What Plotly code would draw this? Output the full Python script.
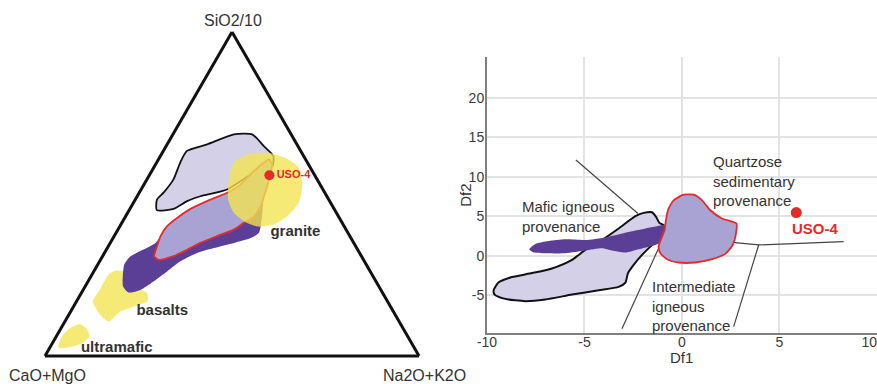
import plotly.graph_objects as go

FONT = "Liberation Sans, Arial, sans-serif"

# ---------------- Ternary diagram data (SiO2/10 = a, CaO+MgO = b, Na2O+K2O = c), in % ----
lav_a = [45.0, 45.4, 47.8, 49.3, 51.4, 56.6, 58.6, 61.7, 64.8, 68.4, 68.4, 65.3, 63.3, 59.7, 54.5, 50.4, 48.3]
lav_b = [47.6, 42.9, 38.1, 33.8, 25.6, 15.8, 9.9, 8.1, 9.1, 10.4, 15.3, 24.0, 30.4, 34.0, 38.4, 43.1, 45.9]
lav_c = [7.4, 11.7, 14.1, 16.9, 23.0, 27.6, 31.5, 30.2, 26.1, 21.2, 16.3, 10.7, 6.3, 6.3, 7.1, 6.5, 5.8]

dark_a = [24.6, 28.2, 30.6, 32.6, 34.9, 38.0, 41.1, 44.2, 47.3, 50.4, 51.4, 44.2, 38.0, 36.4, 34.9, 33.3, 31.8, 29.2, 26.1, 23.0, 20.4, 19.6, 21.5]
dark_b = [66.9, 64.7, 62.0, 57.8, 53.0, 49.3, 45.0, 39.0, 31.2, 22.5, 16.2, 19.8, 23.8, 26.8, 32.0, 38.2, 43.4, 49.2, 54.3, 59.5, 64.3, 67.9, 68.4]
dark_c = [8.5, 7.1, 7.4, 9.6, 12.1, 12.7, 13.9, 16.8, 21.5, 27.1, 32.4, 36.0, 38.2, 36.8, 33.1, 28.5, 24.8, 21.6, 19.6, 17.5, 15.3, 12.5, 10.1]

red_a = [60.7, 59.1, 56.6, 52.4, 49.3, 46.2, 43.1, 41.1, 39.0, 37.0, 34.9, 32.8, 30.8, 29.7, 30.8, 33.9, 37.0, 40.0, 42.6, 45.4, 47.8, 50.4, 52.9, 57.1, 59.7]
red_b = [9.8, 9.7, 11.4, 14.4, 16.8, 19.3, 22.6, 26.3, 30.0, 35.5, 41.0, 45.6, 50.2, 54.8, 55.4, 53.1, 50.6, 47.4, 43.4, 38.4, 32.8, 26.1, 21.3, 15.6, 11.6]
red_c = [29.5, 31.2, 32.0, 33.2, 33.9, 34.5, 34.3, 32.6, 31.0, 27.5, 24.1, 21.6, 19.0, 15.5, 13.8, 13.0, 12.4, 12.6, 14.0, 16.2, 19.4, 23.5, 25.8, 27.3, 28.7]

gran_a = [59.7, 62.2, 62.8, 60.9, 58.1, 52.4, 47.3, 43.1, 40.6, 40.0, 41.6, 44.2, 48.3, 54.5]
gran_b = [19.6, 14.8, 9.2, 4.8, 3.0, 5.0, 8.5, 13.7, 18.5, 23.3, 26.0, 27.4, 26.9, 23.6]
gran_c = [20.7, 23.0, 28.0, 34.3, 38.9, 42.6, 44.2, 43.2, 40.9, 36.7, 32.4, 28.4, 24.8, 21.9]

bas_a = [16.8, 20.6, 25.1, 26.3, 26.1, 20.6, 19.4, 16.8, 15.3, 13.7, 10.6, 12.7]
bas_b = [78.8, 74.9, 70.5, 68.1, 65.8, 64.2, 63.0, 64.2, 68.7, 73.0, 77.7, 78.9]
bas_c = [4.4, 4.4, 4.4, 5.6, 8.1, 15.2, 17.6, 19.0, 16.0, 13.3, 11.7, 8.4]

ult_a = [2.7, 6.0, 8.6, 9.9, 8.6, 6.2, 4.1, 2.9, 2.4]
ult_b = [95.1, 92.5, 89.0, 85.8, 84.7, 85.0, 87.7, 91.4, 93.9]
ult_c = [2.2, 1.5, 2.4, 4.3, 6.7, 8.8, 8.2, 5.7, 3.7]

uso_tern = (55.8, 12.1, 32.1)
tern_labels = ["granite", "basalts", "ultramafic"]
tern_lab_a = [38.3, 13.9, 2.4]
tern_lab_b = [13.9, 61.7, 79.6]
tern_lab_c = [47.8, 24.4, 18.0]

# ---------------- Discriminant function diagram data (Df1, Df2) ----------------
mafic_x = [-9.66, -9.40, -8.72, -7.69, -6.67, -5.64, -4.96, -4.10, -3.25, -2.39, -1.97, -1.54, -1.33, -1.16, -0.94,
           -1.11, -1.54, -2.05, -2.48, -2.77, -2.91, -3.25, -4.27, -5.64, -7.01, -8.03, -9.06, -9.61]
mafic_y = [-4.35, -3.35, -2.68, -2.18, -1.59, -0.50, 0.75, 2.01, 3.47, 5.02, 5.44, 5.52, 4.94, 4.18, 3.85,
           2.43, 1.38, 0.13, -1.13, -2.18, -3.43, -3.93, -4.35, -4.90, -5.52, -5.73, -5.44, -4.90]

dk_x = [-7.83, -7.52, -6.84, -5.98, -4.96, -3.93, -2.91, -1.88, -0.85, -0.43, -0.31, -0.43, -0.77, -1.37,
        -2.22, -2.91, -3.59, -4.10, -4.96, -5.98, -7.01, -7.61]
dk_y = [0.84, 1.51, 1.88, 2.09, 2.01, 2.34, 2.93, 3.47, 3.97, 4.18, 3.68, 2.76, 2.01, 1.38,
        0.84, 0.42, 0.67, 0.96, 0.67, 0.33, 0.33, 0.42]

qz_x = [-0.85, -0.72, -0.43, 0.09, 0.60, 1.03, 1.45, 2.05, 2.79, 2.77, 2.60, 2.22, 1.54, 0.68, -0.17, -0.77,
        -1.11, -1.20, -1.06, -0.89]
qz_y = [4.10, 5.77, 7.03, 7.74, 7.74, 7.03, 5.77, 4.73, 4.10, 2.85, 1.38, 0.25, -0.42, -0.84, -0.84, -0.42,
        0.33, 1.17, 2.22, 3.26]

bnd1_x = [-5.44, -2.26]
bnd1_y = [12.13, 5.36]
bnd2_x = [-0.51, 2.91, 3.93, 8.29]
bnd2_y = [2.43, 1.59, 1.38, 1.80]
bnd3_x = [3.93, 2.65]
bnd3_y = [1.38, -8.95]
bnd4_x = [-1.20, -3.08]
bnd4_y = [0.96, -9.21]

uso_df = (5.86, 5.48)

x_ticks = [-10, -5, 0, 5, 10]
x_tick_labels = ["-10", "-5", "0", "5", "10"]
y_ticks = [-5, 0, 5, 10, 15, 20]
y_tick_labels = ["-5", "0", "5", "10", "15", "20"]

LAV = "#d3d0e8"
DARK = "#5b3f96"
MED = "#a9a3d4"
RED = "#e52a2a"
YEL = "rgba(244,228,80,0.78)"
TXT = "#333333"


def closed(v):
    return list(v) + [v[0]]


fig = go.Figure()


def tern_poly(a, b, c, fill, line_color, line_width):
    fig.add_trace(go.Scatterternary(
        a=closed(a), b=closed(b), c=closed(c), mode="lines", fill="toself",
        fillcolor=fill, line=dict(color=line_color, width=line_width, shape="spline", smoothing=0.6),
        hoverinfo="skip", showlegend=False))


tern_poly(bas_a, bas_b, bas_c, YEL, "rgba(0,0,0,0)", 0)
tern_poly(ult_a, ult_b, ult_c, YEL, "rgba(0,0,0,0)", 0)
tern_poly(lav_a, lav_b, lav_c, LAV, "#111111", 1.8)
tern_poly(dark_a, dark_b, dark_c, DARK, "rgba(0,0,0,0)", 0)
tern_poly(red_a, red_b, red_c, MED, RED, 1.8)
tern_poly(gran_a, gran_b, gran_c, YEL, "rgba(0,0,0,0)", 0)

fig.add_trace(go.Scatterternary(
    a=[uso_tern[0]], b=[uso_tern[1]], c=[uso_tern[2]], mode="markers+text",
    marker=dict(color=RED, size=10), text=["<b>USO-4</b>"], textposition="middle right",
    textfont=dict(color=RED, size=11, family=FONT), hoverinfo="skip", showlegend=False))

fig.add_trace(go.Scatterternary(
    a=tern_lab_a, b=tern_lab_b, c=tern_lab_c, mode="text",
    text=["<b>%s</b>" % t for t in tern_labels], textposition="middle center",
    textfont=dict(color=TXT, size=15, family=FONT), hoverinfo="skip", showlegend=False))

# ---------------- Right panel ----------------
def xy_poly(x, y, fill, line_color, line_width):
    fig.add_trace(go.Scatter(
        x=closed(x), y=closed(y), mode="lines", fill="toself", fillcolor=fill,
        line=dict(color=line_color, width=line_width, shape="spline", smoothing=0.6),
        hoverinfo="skip", showlegend=False, xaxis="x", yaxis="y"))


for bx, by in [(bnd1_x, bnd1_y), (bnd2_x, bnd2_y), (bnd3_x, bnd3_y), (bnd4_x, bnd4_y)]:
    fig.add_trace(go.Scatter(x=bx, y=by, mode="lines", line=dict(color="#444444", width=1.2),
                             hoverinfo="skip", showlegend=False))

xy_poly(mafic_x, mafic_y, LAV, "#111111", 2)
xy_poly(dk_x, dk_y, DARK, "rgba(0,0,0,0)", 0)
xy_poly(qz_x, qz_y, MED, RED, 1.8)

fig.add_trace(go.Scatter(x=[uso_df[0]], y=[uso_df[1]], mode="markers",
                         marker=dict(color=RED, size=11), hoverinfo="skip", showlegend=False))

ann = []
ann.append(dict(x=1.5, y=9.45, xref="x", yref="y", text="Quartzose<br>sedimentary<br>provenance",
                showarrow=False, xanchor="left", yanchor="middle", align="left",
                font=dict(size=15, color=TXT, family=FONT)))
ann.append(dict(x=-8.3, y=5.0, xref="x", yref="y", text="Mafic igneous<br>provenance",
                showarrow=False, xanchor="left", yanchor="middle", align="left",
                font=dict(size=15, color=TXT, family=FONT)))
ann.append(dict(x=-1.65, y=-6.4, xref="x", yref="y", text="Intermediate<br>igneous<br>provenance",
                showarrow=False, xanchor="left", yanchor="middle", align="left",
                font=dict(size=15, color=TXT, family=FONT)))
ann.append(dict(x=5.55, y=3.4, xref="x", yref="y", text="<b>USO-4</b>",
                showarrow=False, xanchor="left", yanchor="middle",
                font=dict(size=15, color=RED, family=FONT)))
ann.append(dict(x=0, y=0.068, xref="x", yref="paper", text="Df1", showarrow=False,
                xanchor="center", yanchor="middle", font=dict(size=15, color=TXT, family=FONT)))
ann.append(dict(x=0.530, y=7.7, xref="paper", yref="y", text="Df2", showarrow=False, textangle=-90,
                xanchor="center", yanchor="middle", font=dict(size=15, color=TXT, family=FONT)))
# ternary apex labels
ann.append(dict(x=0.2657, y=0.946, xref="paper", yref="paper", text="SiO2/10", showarrow=False,
                xanchor="center", yanchor="middle", font=dict(size=16, color=TXT, family=FONT)))
ann.append(dict(x=0.0536, y=0.0216, xref="paper", yref="paper", text="CaO+MgO", showarrow=False,
                xanchor="center", yanchor="middle", font=dict(size=16, color=TXT, family=FONT)))
ann.append(dict(x=0.4846, y=0.0216, xref="paper", yref="paper", text="Na2O+K2O", showarrow=False,
                xanchor="center", yanchor="middle", font=dict(size=16, color=TXT, family=FONT)))

tern_axis = dict(showgrid=False, showticklabels=False, ticks="", linecolor="#111111", linewidth=3,
                 showline=True, title=dict(text=""))

# the last x tick label sits flush against the right edge in the source figure
x_ticktext = x_tick_labels[:-1] + [x_tick_labels[-1] + "\u00a0\u00a0\u00a0\u00a0"]

fig.update_layout(
    width=877, height=384,
    margin=dict(l=0, r=0, t=0, b=0, autoexpand=False),
    paper_bgcolor="white", plot_bgcolor="white",
    font=dict(family=FONT, color=TXT),
    showlegend=False,
    ternary=dict(domain=dict(x=[0.0513, 0.4778], y=[0.0729, 0.9167]), bgcolor="white",
                 sum=100, aaxis=tern_axis, baxis=tern_axis, caxis=tern_axis),
    xaxis=dict(domain=[0.5553, 1.0], range=[-10, 10], tickvals=x_ticks, ticktext=x_ticktext,
               showline=True, linecolor="#808080", linewidth=2, showgrid=True, gridcolor="#e3e3e3",
               gridwidth=1.5, zeroline=False, ticks="", tickfont=dict(size=14, color="#3a3a3a"), anchor="y",
               ticklabeloverflow="allow", automargin=False, ticklabelstandoff=-5),
    yaxis=dict(domain=[0.132, 0.8523], range=[-9.8, 25.2], tickvals=y_ticks, ticktext=y_tick_labels,
               showline=True, linecolor="#808080", linewidth=2, showgrid=True, gridcolor="#e3e3e3",
               gridwidth=1.5, zeroline=False, ticks="", tickfont=dict(size=14, color="#3a3a3a"), anchor="x",
               automargin=False, ticklabelstandoff=-2),
    annotations=ann,
)

fig.write_html("out.html", config={"displayModeBar": False},
               post_script="document.body.style.margin='0';document.body.style.overflow='hidden';")
